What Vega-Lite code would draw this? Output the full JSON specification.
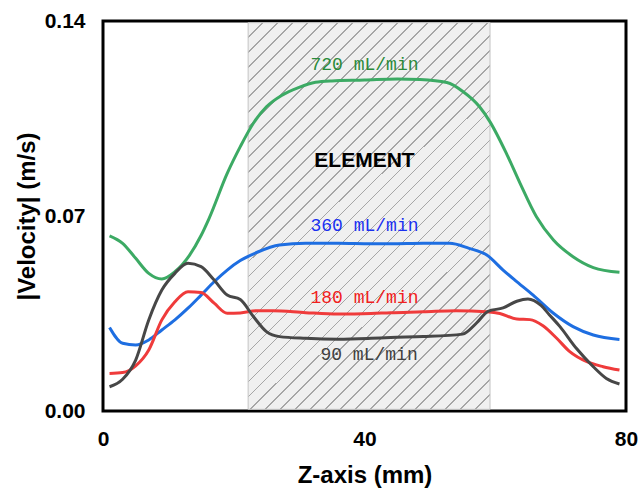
{
  "$schema": "https://vega.github.io/schema/vega-lite/v6.json",
  "width": 523,
  "height": 390,
  "autosize": {"type": "none"},
  "padding": {"left": 103, "top": 21, "right": 14, "bottom": 81},
  "background": "white",
  "config": {
    "view": {"stroke": "black", "strokeWidth": 3},
    "font": "Liberation Sans"
  },
  "datasets": {
    "element": [{"z": 22.2, "z2": 59.2, "v": 0.0006, "v2": 0.1394}],
    "xminor": [{"z": 10}, {"z": 20}, {"z": 30}, {"z": 50}, {"z": 60}, {"z": 70}],
    "xmajor": [{"z": 40}],
    "yminor": [{"v": 0.01}, {"v": 0.02}, {"v": 0.03}, {"v": 0.04}, {"v": 0.05}, {"v": 0.06}, {"v": 0.08}, {"v": 0.09}, {"v": 0.10}, {"v": 0.11}, {"v": 0.12}, {"v": 0.13}],
    "ymajor": [{"v": 0.07}],
    "curves": [
      {"flow": "720", "z": 1, "v": 0.0629}, {"flow": "720", "z": 3, "v": 0.0602}, {"flow": "720", "z": 5, "v": 0.0548},
      {"flow": "720", "z": 7, "v": 0.0494}, {"flow": "720", "z": 9, "v": 0.0474}, {"flow": "720", "z": 11, "v": 0.0500},
      {"flow": "720", "z": 13.2, "v": 0.0558}, {"flow": "720", "z": 15, "v": 0.0630}, {"flow": "720", "z": 16.2, "v": 0.0690},
      {"flow": "720", "z": 19, "v": 0.0853}, {"flow": "720", "z": 21, "v": 0.0949}, {"flow": "720", "z": 23, "v": 0.1033},
      {"flow": "720", "z": 25, "v": 0.1092}, {"flow": "720", "z": 27.4, "v": 0.1134}, {"flow": "720", "z": 30, "v": 0.1162},
      {"flow": "720", "z": 32.5, "v": 0.1180}, {"flow": "720", "z": 35, "v": 0.1185}, {"flow": "720", "z": 40, "v": 0.1188},
      {"flow": "720", "z": 45, "v": 0.1192}, {"flow": "720", "z": 48.5, "v": 0.1190}, {"flow": "720", "z": 52.6, "v": 0.1179},
      {"flow": "720", "z": 55.1, "v": 0.1146}, {"flow": "720", "z": 57.6, "v": 0.1092}, {"flow": "720", "z": 59.2, "v": 0.1038},
      {"flow": "720", "z": 61.7, "v": 0.0925}, {"flow": "720", "z": 63.8, "v": 0.0817}, {"flow": "720", "z": 66.3, "v": 0.0697},
      {"flow": "720", "z": 68.9, "v": 0.0614}, {"flow": "720", "z": 71.9, "v": 0.0554}, {"flow": "720", "z": 75, "v": 0.0515},
      {"flow": "720", "z": 79, "v": 0.0498},
      {"flow": "360", "z": 1, "v": 0.0300}, {"flow": "360", "z": 3, "v": 0.0243}, {"flow": "360", "z": 5, "v": 0.0237},
      {"flow": "360", "z": 7, "v": 0.0255}, {"flow": "360", "z": 9, "v": 0.0291}, {"flow": "360", "z": 11, "v": 0.0327},
      {"flow": "360", "z": 13, "v": 0.0369}, {"flow": "360", "z": 15, "v": 0.0416}, {"flow": "360", "z": 17, "v": 0.0464},
      {"flow": "360", "z": 19, "v": 0.0506}, {"flow": "360", "z": 21, "v": 0.0540}, {"flow": "360", "z": 23.5, "v": 0.0569},
      {"flow": "360", "z": 27, "v": 0.0596}, {"flow": "360", "z": 31, "v": 0.0602}, {"flow": "360", "z": 36, "v": 0.0602},
      {"flow": "360", "z": 41, "v": 0.0600}, {"flow": "360", "z": 44, "v": 0.0600}, {"flow": "360", "z": 49, "v": 0.0602},
      {"flow": "360", "z": 53, "v": 0.0602}, {"flow": "360", "z": 56, "v": 0.0584}, {"flow": "360", "z": 58.7, "v": 0.0560},
      {"flow": "360", "z": 61.2, "v": 0.0506}, {"flow": "360", "z": 63, "v": 0.0470}, {"flow": "360", "z": 65.8, "v": 0.0416},
      {"flow": "360", "z": 68.9, "v": 0.0351}, {"flow": "360", "z": 71.9, "v": 0.0303}, {"flow": "360", "z": 75, "v": 0.0273},
      {"flow": "360", "z": 79, "v": 0.0257},
      {"flow": "180", "z": 1, "v": 0.0135}, {"flow": "180", "z": 3, "v": 0.0138}, {"flow": "180", "z": 5, "v": 0.0162},
      {"flow": "180", "z": 7, "v": 0.0219}, {"flow": "180", "z": 9, "v": 0.0327}, {"flow": "180", "z": 11, "v": 0.0392},
      {"flow": "180", "z": 13, "v": 0.0428}, {"flow": "180", "z": 15, "v": 0.0425}, {"flow": "180", "z": 17, "v": 0.0387},
      {"flow": "180", "z": 19, "v": 0.0351}, {"flow": "180", "z": 21, "v": 0.0352}, {"flow": "180", "z": 23.5, "v": 0.0360},
      {"flow": "180", "z": 26, "v": 0.0360}, {"flow": "180", "z": 31, "v": 0.0353}, {"flow": "180", "z": 36, "v": 0.0348},
      {"flow": "180", "z": 41, "v": 0.0350}, {"flow": "180", "z": 44, "v": 0.0353}, {"flow": "180", "z": 49, "v": 0.0356},
      {"flow": "180", "z": 54, "v": 0.0360}, {"flow": "180", "z": 58.7, "v": 0.0356}, {"flow": "180", "z": 60.7, "v": 0.0350},
      {"flow": "180", "z": 63.3, "v": 0.0330}, {"flow": "180", "z": 65.3, "v": 0.0328}, {"flow": "180", "z": 67.3, "v": 0.0306},
      {"flow": "180", "z": 69.4, "v": 0.0261}, {"flow": "180", "z": 71.4, "v": 0.0213}, {"flow": "180", "z": 74, "v": 0.0177},
      {"flow": "180", "z": 76.5, "v": 0.0159}, {"flow": "180", "z": 79, "v": 0.0147},
      {"flow": "90", "z": 1, "v": 0.0087}, {"flow": "90", "z": 3, "v": 0.0114}, {"flow": "90", "z": 5, "v": 0.0183},
      {"flow": "90", "z": 7, "v": 0.0327}, {"flow": "90", "z": 9, "v": 0.0434}, {"flow": "90", "z": 11, "v": 0.0494},
      {"flow": "90", "z": 13, "v": 0.0530}, {"flow": "90", "z": 15, "v": 0.0518}, {"flow": "90", "z": 17, "v": 0.0470},
      {"flow": "90", "z": 19, "v": 0.0416}, {"flow": "90", "z": 21, "v": 0.0400}, {"flow": "90", "z": 23, "v": 0.0339},
      {"flow": "90", "z": 25, "v": 0.0285}, {"flow": "90", "z": 27, "v": 0.0267}, {"flow": "90", "z": 31, "v": 0.0261},
      {"flow": "90", "z": 36, "v": 0.0258}, {"flow": "90", "z": 41, "v": 0.0261}, {"flow": "90", "z": 44, "v": 0.0264},
      {"flow": "90", "z": 49, "v": 0.0267}, {"flow": "90", "z": 55, "v": 0.0276}, {"flow": "90", "z": 57.1, "v": 0.0315},
      {"flow": "90", "z": 58.9, "v": 0.0358}, {"flow": "90", "z": 61.2, "v": 0.0370}, {"flow": "90", "z": 63.3, "v": 0.0394},
      {"flow": "90", "z": 65, "v": 0.0402}, {"flow": "90", "z": 67, "v": 0.0379}, {"flow": "90", "z": 68.3, "v": 0.0345},
      {"flow": "90", "z": 69.9, "v": 0.0303}, {"flow": "90", "z": 72.4, "v": 0.0225}, {"flow": "90", "z": 75, "v": 0.0159},
      {"flow": "90", "z": 77, "v": 0.0117}, {"flow": "90", "z": 79, "v": 0.0097}
    ],
    "labels": [
      {"flow": "720", "z": 40, "v": 0.1242, "label": "720 mL/min"},
      {"flow": "360", "z": 40, "v": 0.0664, "label": "360 mL/min"},
      {"flow": "180", "z": 40, "v": 0.0406, "label": "180 mL/min"},
      {"flow": "90", "z": 40.7, "v": 0.0201, "label": "90 mL/min"}
    ],
    "title": [{"z": 40, "v": 0.0899, "label": "ELEMENT"}]
  },
  "encoding": {
    "x": {
      "field": "z", "type": "quantitative",
      "scale": {"domain": [0, 80], "nice": false, "zero": false},
      "axis": {
        "title": "Z-axis (mm)",
        "values": [0, 40, 80],
        "domain": false, "grid": false, "ticks": false,
        "labelPadding": 17, "labelFontSize": 21, "labelFontWeight": "bold", "labelColor": "black",
        "labelFont": "Liberation Sans", "labelFlush": false,
        "titleFontSize": 24, "titleFontWeight": "bold", "titleColor": "black", "titleFont": "Liberation Sans",
        "titlePadding": 14
      }
    },
    "y": {
      "field": "v", "type": "quantitative",
      "scale": {"domain": [0, 0.14], "nice": false, "zero": false},
      "axis": {
        "title": "|Velocity| (m/s)",
        "values": [0, 0.07, 0.14],
        "format": ".2f",
        "domain": false, "grid": false, "ticks": false,
        "labelPadding": 18, "labelFontSize": 21, "labelFontWeight": "bold", "labelColor": "black",
        "labelFont": "Liberation Sans", "labelFlush": false,
        "titleFontSize": 24, "titleFontWeight": "bold", "titleColor": "black", "titleFont": "Liberation Sans",
        "titlePadding": 5
      }
    }
  },
  "layer": [
    {
      "data": {"name": "element"},
      "mark": {
        "type": "rect",
        "stroke": "#c4c4c4",
        "strokeWidth": 1,
        "fill": {
          "gradient": "linear",
          "x1": 0, "y1": 0, "x2": 0.7304, "y2": 1.1686,
          "stops": [
            {"offset": 0, "color": "#f0f0f0"},
            {"offset": 0.02251, "color": "#f0f0f0"}, {"offset": 0.02251, "color": "#a6a6a6"}, {"offset": 0.02511, "color": "#a6a6a6"}, {"offset": 0.02511, "color": "#f0f0f0"},
            {"offset": 0.04632, "color": "#f0f0f0"}, {"offset": 0.04632, "color": "#a6a6a6"}, {"offset": 0.04892, "color": "#a6a6a6"}, {"offset": 0.04892, "color": "#f0f0f0"},
            {"offset": 0.07013, "color": "#f0f0f0"}, {"offset": 0.07013, "color": "#a6a6a6"}, {"offset": 0.07273, "color": "#a6a6a6"}, {"offset": 0.07273, "color": "#f0f0f0"},
            {"offset": 0.09394, "color": "#f0f0f0"}, {"offset": 0.09394, "color": "#a6a6a6"}, {"offset": 0.09654, "color": "#a6a6a6"}, {"offset": 0.09654, "color": "#f0f0f0"},
            {"offset": 0.11775, "color": "#f0f0f0"}, {"offset": 0.11775, "color": "#a6a6a6"}, {"offset": 0.12035, "color": "#a6a6a6"}, {"offset": 0.12035, "color": "#f0f0f0"},
            {"offset": 0.14156, "color": "#f0f0f0"}, {"offset": 0.14156, "color": "#a6a6a6"}, {"offset": 0.14416, "color": "#a6a6a6"}, {"offset": 0.14416, "color": "#f0f0f0"},
            {"offset": 0.16537, "color": "#f0f0f0"}, {"offset": 0.16537, "color": "#a6a6a6"}, {"offset": 0.16797, "color": "#a6a6a6"}, {"offset": 0.16797, "color": "#f0f0f0"},
            {"offset": 0.18918, "color": "#f0f0f0"}, {"offset": 0.18918, "color": "#a6a6a6"}, {"offset": 0.19178, "color": "#a6a6a6"}, {"offset": 0.19178, "color": "#f0f0f0"},
            {"offset": 0.21299, "color": "#f0f0f0"}, {"offset": 0.21299, "color": "#a6a6a6"}, {"offset": 0.21559, "color": "#a6a6a6"}, {"offset": 0.21559, "color": "#f0f0f0"},
            {"offset": 0.23680, "color": "#f0f0f0"}, {"offset": 0.23680, "color": "#a6a6a6"}, {"offset": 0.23940, "color": "#a6a6a6"}, {"offset": 0.23940, "color": "#f0f0f0"},
            {"offset": 0.26060, "color": "#f0f0f0"}, {"offset": 0.26060, "color": "#a6a6a6"}, {"offset": 0.26320, "color": "#a6a6a6"}, {"offset": 0.26320, "color": "#f0f0f0"},
            {"offset": 0.28441, "color": "#f0f0f0"}, {"offset": 0.28441, "color": "#a6a6a6"}, {"offset": 0.28701, "color": "#a6a6a6"}, {"offset": 0.28701, "color": "#f0f0f0"},
            {"offset": 0.30822, "color": "#f0f0f0"}, {"offset": 0.30822, "color": "#a6a6a6"}, {"offset": 0.31082, "color": "#a6a6a6"}, {"offset": 0.31082, "color": "#f0f0f0"},
            {"offset": 0.33203, "color": "#f0f0f0"}, {"offset": 0.33203, "color": "#a6a6a6"}, {"offset": 0.33463, "color": "#a6a6a6"}, {"offset": 0.33463, "color": "#f0f0f0"},
            {"offset": 0.35584, "color": "#f0f0f0"}, {"offset": 0.35584, "color": "#a6a6a6"}, {"offset": 0.35844, "color": "#a6a6a6"}, {"offset": 0.35844, "color": "#f0f0f0"},
            {"offset": 0.37965, "color": "#f0f0f0"}, {"offset": 0.37965, "color": "#a6a6a6"}, {"offset": 0.38225, "color": "#a6a6a6"}, {"offset": 0.38225, "color": "#f0f0f0"},
            {"offset": 0.40346, "color": "#f0f0f0"}, {"offset": 0.40346, "color": "#a6a6a6"}, {"offset": 0.40606, "color": "#a6a6a6"}, {"offset": 0.40606, "color": "#f0f0f0"},
            {"offset": 0.42727, "color": "#f0f0f0"}, {"offset": 0.42727, "color": "#a6a6a6"}, {"offset": 0.42987, "color": "#a6a6a6"}, {"offset": 0.42987, "color": "#f0f0f0"},
            {"offset": 0.45108, "color": "#f0f0f0"}, {"offset": 0.45108, "color": "#a6a6a6"}, {"offset": 0.45368, "color": "#a6a6a6"}, {"offset": 0.45368, "color": "#f0f0f0"},
            {"offset": 0.47489, "color": "#f0f0f0"}, {"offset": 0.47489, "color": "#a6a6a6"}, {"offset": 0.47749, "color": "#a6a6a6"}, {"offset": 0.47749, "color": "#f0f0f0"},
            {"offset": 0.49870, "color": "#f0f0f0"}, {"offset": 0.49870, "color": "#a6a6a6"}, {"offset": 0.50130, "color": "#a6a6a6"}, {"offset": 0.50130, "color": "#f0f0f0"},
            {"offset": 0.52251, "color": "#f0f0f0"}, {"offset": 0.52251, "color": "#a6a6a6"}, {"offset": 0.52511, "color": "#a6a6a6"}, {"offset": 0.52511, "color": "#f0f0f0"},
            {"offset": 0.54632, "color": "#f0f0f0"}, {"offset": 0.54632, "color": "#a6a6a6"}, {"offset": 0.54892, "color": "#a6a6a6"}, {"offset": 0.54892, "color": "#f0f0f0"},
            {"offset": 0.57013, "color": "#f0f0f0"}, {"offset": 0.57013, "color": "#a6a6a6"}, {"offset": 0.57273, "color": "#a6a6a6"}, {"offset": 0.57273, "color": "#f0f0f0"},
            {"offset": 0.59394, "color": "#f0f0f0"}, {"offset": 0.59394, "color": "#a6a6a6"}, {"offset": 0.59654, "color": "#a6a6a6"}, {"offset": 0.59654, "color": "#f0f0f0"},
            {"offset": 0.61775, "color": "#f0f0f0"}, {"offset": 0.61775, "color": "#a6a6a6"}, {"offset": 0.62035, "color": "#a6a6a6"}, {"offset": 0.62035, "color": "#f0f0f0"},
            {"offset": 0.64156, "color": "#f0f0f0"}, {"offset": 0.64156, "color": "#a6a6a6"}, {"offset": 0.64416, "color": "#a6a6a6"}, {"offset": 0.64416, "color": "#f0f0f0"},
            {"offset": 0.66537, "color": "#f0f0f0"}, {"offset": 0.66537, "color": "#a6a6a6"}, {"offset": 0.66797, "color": "#a6a6a6"}, {"offset": 0.66797, "color": "#f0f0f0"},
            {"offset": 0.68918, "color": "#f0f0f0"}, {"offset": 0.68918, "color": "#a6a6a6"}, {"offset": 0.69178, "color": "#a6a6a6"}, {"offset": 0.69178, "color": "#f0f0f0"},
            {"offset": 0.71299, "color": "#f0f0f0"}, {"offset": 0.71299, "color": "#a6a6a6"}, {"offset": 0.71559, "color": "#a6a6a6"}, {"offset": 0.71559, "color": "#f0f0f0"},
            {"offset": 0.73680, "color": "#f0f0f0"}, {"offset": 0.73680, "color": "#a6a6a6"}, {"offset": 0.73940, "color": "#a6a6a6"}, {"offset": 0.73940, "color": "#f0f0f0"},
            {"offset": 0.76060, "color": "#f0f0f0"}, {"offset": 0.76060, "color": "#a6a6a6"}, {"offset": 0.76320, "color": "#a6a6a6"}, {"offset": 0.76320, "color": "#f0f0f0"},
            {"offset": 0.78441, "color": "#f0f0f0"}, {"offset": 0.78441, "color": "#a6a6a6"}, {"offset": 0.78701, "color": "#a6a6a6"}, {"offset": 0.78701, "color": "#f0f0f0"},
            {"offset": 0.80822, "color": "#f0f0f0"}, {"offset": 0.80822, "color": "#a6a6a6"}, {"offset": 0.81082, "color": "#a6a6a6"}, {"offset": 0.81082, "color": "#f0f0f0"},
            {"offset": 0.83203, "color": "#f0f0f0"}, {"offset": 0.83203, "color": "#a6a6a6"}, {"offset": 0.83463, "color": "#a6a6a6"}, {"offset": 0.83463, "color": "#f0f0f0"},
            {"offset": 0.85584, "color": "#f0f0f0"}, {"offset": 0.85584, "color": "#a6a6a6"}, {"offset": 0.85844, "color": "#a6a6a6"}, {"offset": 0.85844, "color": "#f0f0f0"},
            {"offset": 0.87965, "color": "#f0f0f0"}, {"offset": 0.87965, "color": "#a6a6a6"}, {"offset": 0.88225, "color": "#a6a6a6"}, {"offset": 0.88225, "color": "#f0f0f0"},
            {"offset": 0.90346, "color": "#f0f0f0"}, {"offset": 0.90346, "color": "#a6a6a6"}, {"offset": 0.90606, "color": "#a6a6a6"}, {"offset": 0.90606, "color": "#f0f0f0"},
            {"offset": 0.92727, "color": "#f0f0f0"}, {"offset": 0.92727, "color": "#a6a6a6"}, {"offset": 0.92987, "color": "#a6a6a6"}, {"offset": 0.92987, "color": "#f0f0f0"},
            {"offset": 0.95108, "color": "#f0f0f0"}, {"offset": 0.95108, "color": "#a6a6a6"}, {"offset": 0.95368, "color": "#a6a6a6"}, {"offset": 0.95368, "color": "#f0f0f0"},
            {"offset": 0.97489, "color": "#f0f0f0"}, {"offset": 0.97489, "color": "#a6a6a6"}, {"offset": 0.97749, "color": "#a6a6a6"}, {"offset": 0.97749, "color": "#f0f0f0"},
            {"offset": 1, "color": "#f0f0f0"}
          ]
        }
      },
      "encoding": {
        "x2": {"field": "z2"},
        "y2": {"field": "v2"}
      }
    },
    {
      "data": {"name": "curves"},
      "mark": {"type": "line", "strokeWidth": 3, "interpolate": "monotone"},
      "encoding": {
        "color": {
          "field": "flow", "type": "nominal",
          "scale": {"domain": ["720", "360", "180", "90"], "range": ["#3caa64", "#1e6ee1", "#ef3b3b", "#474747"]},
          "legend": null
        },
        "order": {"field": "z", "type": "quantitative"}
      }
    },
    {
      "data": {"name": "labels"},
      "mark": {"type": "text", "font": "Liberation Mono", "fontSize": 18, "baseline": "middle", "align": "center"},
      "encoding": {
        "text": {"field": "label"},
        "color": {
          "field": "flow", "type": "nominal",
          "scale": {"domain": ["720", "360", "180", "90"], "range": ["#2a8a3a", "#1a30f0", "#f02020", "#404040"]},
          "legend": null
        }
      }
    },
    {
      "data": {"name": "title"},
      "mark": {"type": "text", "font": "Liberation Sans", "fontSize": 21, "fontWeight": "bold", "baseline": "middle", "align": "center", "color": "black"},
      "encoding": {
        "text": {"field": "label"}
      }
    },
    {
      "data": {"name": "xminor"},
      "mark": {"type": "rule", "color": "black", "strokeWidth": 3},
      "encoding": {
        "y": {"datum": 0},
        "y2": {"datum": 0.0022}
      }
    },
    {
      "data": {"name": "xmajor"},
      "mark": {"type": "rule", "color": "black", "strokeWidth": 3},
      "encoding": {
        "y": {"datum": 0},
        "y2": {"datum": 0.0044}
      }
    },
    {
      "data": {"name": "yminor"},
      "mark": {"type": "rule", "color": "black", "strokeWidth": 3},
      "encoding": {
        "x": {"datum": 0},
        "x2": {"datum": 0.93}
      }
    },
    {
      "data": {"name": "ymajor"},
      "mark": {"type": "rule", "color": "black", "strokeWidth": 3},
      "encoding": {
        "x": {"datum": 0},
        "x2": {"datum": 1.85}
      }
    }
  ],
  "resolve": {"scale": {"color": "independent"}}
}
